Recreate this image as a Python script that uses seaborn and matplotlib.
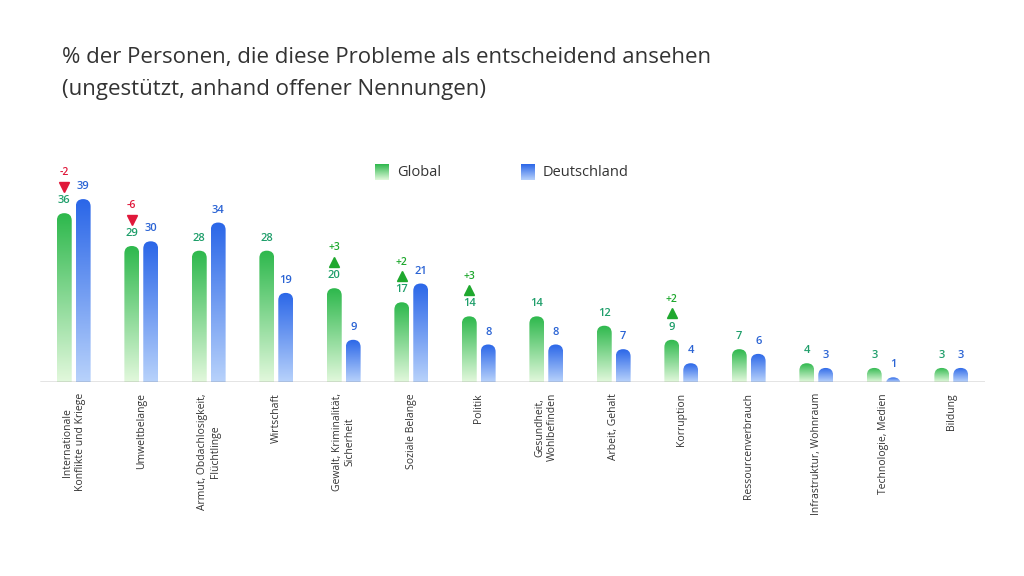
import numpy as np
import pandas as pd
import matplotlib
matplotlib.use("Agg")
import matplotlib.pyplot as plt
import seaborn as sns
from matplotlib.patches import FancyBboxPatch

# =========================
# Data
# =========================
categories = ["Internationale\nKonflikte und Kriege", "Umweltbelange",
              "Armut, Obdachlosigkeit,\nFlüchtlinge", "Wirtschaft",
              "Gewalt, Kriminalität,\nSicherheit", "Soziale Belange", "Politik",
              "Gesundheit,\nWohlbefinden", "Arbeit, Gehalt", "Korruption",
              "Ressourcenverbrauch", "Infrastruktur, Wohnraum",
              "Technologie, Medien", "Bildung"]
global_vals = [36, 29, 28, 28, 20, 17, 14, 14, 12, 9, 7, 4, 3, 3]
de_vals = [39, 30, 34, 19, 9, 21, 8, 8, 7, 4, 6, 3, 1, 3]
changes = [-2, -6, None, None, 3, 2, 3, None, None, 2, None, None, None, None]

df = pd.DataFrame({
    "Kategorie": categories * 2,
    "Wert": global_vals + de_vals,
    "Region": ["Global"] * 14 + ["Deutschland"] * 14,
})

sns.set_theme(style="white")
plt.rcParams["font.family"] = ["Open Sans", "DejaVu Sans"]

fig = plt.figure(figsize=(10.24, 5.76), dpi=100)
ax = fig.add_axes([40 / 1024, 1 - 382 / 576, 945 / 1024, 232 / 576])

sns.barplot(data=df, x="Kategorie", y="Wert", hue="Region", ax=ax,
            width=0.56, dodge=True, legend=False)
ymax = 232 / 4.69

cmaps = {
    "Global": ("#2db84c", "#e2f8dc"),
    "Deutschland": ("#2a66e8", "#b8d2fb"),
}
label_col = {"Global": "#1e9e6a", "Deutschland": "#2a63d4"}

def gradient(top, bottom, n=256):
    t = np.linspace(0, 1, n)[:, None]
    a = np.array(matplotlib.colors.to_rgb(top))
    b = np.array(matplotlib.colors.to_rgb(bottom))
    return (a * (1 - t) + b * t).reshape(n, 1, 3)

asp = (ymax / 232) / (14 / 945)
shift = matplotlib.transforms.ScaledTranslation(0, 19 / 72, fig.dpi_scale_trans)
for i, p in enumerate(list(ax.patches)):
    region = "Global" if i < 14 else "Deutschland"
    idx = i % 14
    x0, w, h = p.get_x(), p.get_width(), p.get_height()
    p.set_visible(False)
    bw = 0.22
    xc = x0 + w / 2
    bx = xc - bw / 2
    clip = FancyBboxPatch((bx, -3), bw, h + 3,
                          boxstyle=f"round,pad=0,rounding_size={bw/2}",
                          mutation_aspect=asp, transform=ax.transData,
                          facecolor="none", edgecolor="none")
    ax.add_patch(clip)
    im = ax.imshow(gradient(*cmaps[region]), extent=[bx, bx + bw, 0, h],
                   aspect="auto", zorder=2)
    im.set_clip_path(clip)
    ax.annotate(str(int(h)), (xc, h), xytext=(0, 5), textcoords="offset points",
                ha="center", va="bottom", fontsize=8, color=label_col[region],
                fontweight="semibold")
    if region == "Global" and changes[idx] is not None:
        c = changes[idx]
        col = "#e0183a" if c < 0 else "#1fa82e"
        ax.plot([xc], [h], marker="v" if c < 0 else "^", markersize=7, color=col,
                transform=ax.transData + shift, clip_on=False, zorder=3)
        ax.annotate(f"{c:+d}", (xc, h), xytext=(0, 25), textcoords="offset points",
                    ha="center", va="bottom", fontsize=7.5, color=col, fontweight="semibold")

ax.set_xlim(-0.5, 13.5)
ax.set_ylim(0, ymax)
ax.axhline(0, color="#777777", lw=1, zorder=4)
for s in ax.spines.values():
    s.set_visible(False)
ax.set_yticks([])
ax.set_xlabel("")
ax.set_ylabel("")
ax.set_xticks(range(14))
ax.set_xticklabels(categories, rotation=90, ha="center", va="top",
                   fontsize=7.5, color="#333333")
ax.tick_params(axis="x", length=0, pad=8)

# title
fig.text(62 / 1024, 1 - 57 / 576, "% der Personen, die diese Probleme als entscheidend ansehen",
         fontsize=16, color="#333333", va="center")
fig.text(62 / 1024, 1 - 89 / 576, "(ungestützt, anhand offener Nennungen)",
         fontsize=16, color="#333333", va="center")

# legend
for lx, region, txt in [(375, "Global", "Global"), (521, "Deutschland", "Deutschland")]:
    lax = fig.add_axes([lx / 1024, 1 - 180 / 576, 14 / 1024, 16 / 576])
    lax.imshow(gradient(*cmaps[region]), aspect="auto")
    lax.axis("off")
    fig.text((lx + 22) / 1024, 1 - 172 / 576, txt, fontsize=10.5, color="#333333", va="center")

plt.savefig("out.png", dpi=100)
plt.close()
